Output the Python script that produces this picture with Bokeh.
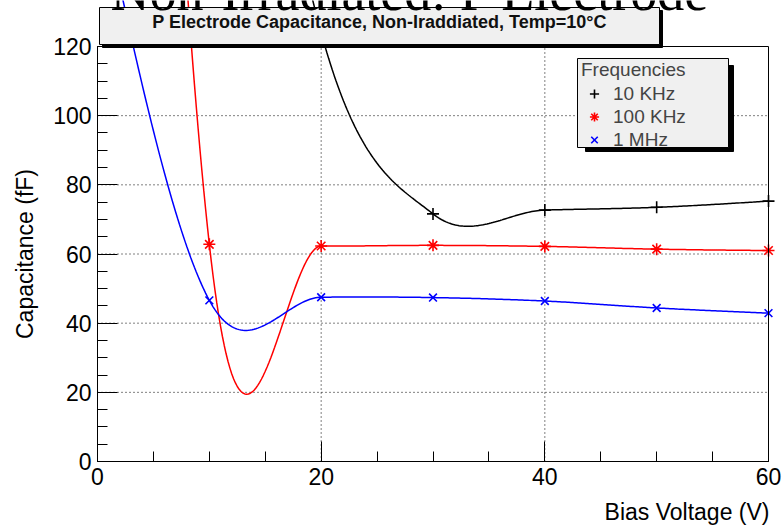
import numpy as np
from bokeh.plotting import figure
from bokeh.models import (Range1d, SingleIntervalTicker, Label, BoxAnnotation,
                          Legend, LegendItem)
from bokeh.embed import file_html
from bokeh.resources import INLINE

# ---------------- data ----------------
bias_v = [0, 10, 20, 30, 40, 50, 60]
cap_10khz = [600.0, 308.0, 124.0, 71.6, 72.7, 73.5, 75.3]
cap_100khz = [646.0, 62.8, 62.3, 62.5, 62.2, 61.4, 61.0]
cap_1mhz = [167.5, 46.6, 47.5, 47.4, 46.4, 44.4, 42.9]
series_names = ["10 KHz", "100 KHz", "1 MHz"]
x_major_ticks = [0, 20, 40, 60]
y_major_ticks = [0, 20, 40, 60, 80, 100, 120]
title_text = "P Electrode Capacitance, Non-Iraddiated, Temp=10\u00b0C"
doc_caption = "Non-Irradiated: P Electrode"
x_title = "Bias Voltage (V)"
y_title = "Capacitance (fF)"
legend_title = "Frequencies"

# ---------------- layout (pixels) ----------------
W, H = 782, 526
FL, FR, FT, FB = 97, 768, 46, 461        # data box on the canvas
X0, X1 = x_major_ticks[0], x_major_ticks[-1]
Y0, Y1 = y_major_ticks[0], y_major_ticks[-1]
kx = (X1 - X0) / (FR - FL)
ky = (Y1 - Y0) / (FB - FT)


def sx(px):  # canvas px -> screen-unit x (frame == canvas)
    return px


def sy(py):  # canvas py (from top) -> screen-unit y (from bottom)
    return H - py


def smooth(xs, ys, n=60):
    """Cardinal (Catmull-Rom) cubic through the measured points, like ROOT's 'C' option."""
    xs = np.asarray(xs, float)
    ys = np.asarray(ys, float)
    k = len(xs)
    m = np.zeros(k)
    for i in range(1, k - 1):
        m[i] = (ys[i + 1] - ys[i - 1]) / (xs[i + 1] - xs[i - 1])
    h0 = xs[1] - xs[0]
    m[0] = (3 * (ys[1] - ys[0]) / h0 - m[1]) / 2
    h1 = xs[-1] - xs[-2]
    m[-1] = (3 * (ys[-1] - ys[-2]) / h1 - m[-2]) / 2
    ox, oy = [], []
    for i in range(k - 1):
        h = xs[i + 1] - xs[i]
        u = np.linspace(0, 1, n, endpoint=(i == k - 2))
        h00 = 2 * u**3 - 3 * u**2 + 1
        h10 = u**3 - 2 * u**2 + u
        h01 = -2 * u**3 + 3 * u**2
        h11 = u**3 - u**2
        ox.append(xs[i] + u * h)
        oy.append(h00 * ys[i] + h10 * h * m[i] + h01 * ys[i + 1] + h11 * h * m[i + 1])
    return np.concatenate(ox), np.concatenate(oy)


p = figure(width=W, height=H, title=None,
           x_range=Range1d(X0 - FL * kx, X1 + (W - FR) * kx),
           y_range=Range1d(Y0 - (H - FB) * ky, Y1 + FT * ky),
           output_backend="svg", toolbar_location=None,
           min_border=0, min_border_left=0, min_border_right=0,
           min_border_top=0, min_border_bottom=0)
p.background_fill_color = "white"
p.border_fill_color = "white"
p.outline_line_color = None
p.xgrid.visible = False
p.ygrid.visible = False

xt = SingleIntervalTicker(interval=x_major_ticks[1] - x_major_ticks[0], num_minor_ticks=4)
yt = SingleIntervalTicker(interval=y_major_ticks[1] - y_major_ticks[0], num_minor_ticks=4)
xa, ya = p.xaxis[0], p.yaxis[0]
xa.ticker = xt
ya.ticker = yt
xa.fixed_location = Y0
ya.fixed_location = X0
xa.bounds = (X0, X1)
ya.bounds = (Y0, Y1)
for ax in (xa, ya):
    ax.major_tick_in = 20
    ax.major_tick_out = 0
    ax.minor_tick_in = 10
    ax.minor_tick_out = 0
    ax.axis_line_color = "black"
    ax.axis_line_width = 1
    ax.major_tick_line_color = "black"
    ax.minor_tick_line_color = "black"
    ax.major_label_text_font = "Liberation Sans"
    ax.major_label_text_font_size = "23px"
    ax.major_label_text_color = "black"
xa.major_label_standoff = 6
ya.major_label_standoff = 6

# dotted grid at the inner major ticks
gx = [t for t in x_major_ticks if X0 < t < X1]
gy = [t for t in y_major_ticks if Y0 < t < Y1]
p.segment(x0=gx, y0=[Y0] * len(gx), x1=gx, y1=[Y1] * len(gx),
          line_color="black", line_dash="1 3", line_width=1)
p.segment(x0=[X0] * len(gy), y0=gy, x1=[X1] * len(gy), y1=gy,
          line_color="black", line_dash="1 3", line_width=1)

colors = ["black", "red", "blue"]
markers = ["cross", "asterisk", "x"]
sizes = [12, 12, 11]
scatter_renderers = []
for ys, c, mk, sz in zip([cap_10khz, cap_100khz, cap_1mhz], colors, markers, sizes):
    cx, cy = smooth(bias_v, ys)
    p.line(cx, cy, line_color=c, line_width=1.5)
    r = p.scatter(bias_v, ys, marker=mk, size=sz, line_color=c, fill_color=c, line_width=1.6)
    scatter_renderers.append(r)

# frame of the data box
p.add_layout(BoxAnnotation(left=X0, right=X1, bottom=Y0, top=Y1,
                           fill_alpha=0, line_color="black", line_alpha=1, line_width=1))

# axis titles
p.add_layout(Label(x=sx(24), y=sy((FT + FB) / 2), x_units="screen", y_units="screen",
                   text=y_title, angle=np.pi / 2, text_align="center", text_baseline="middle",
                   text_font="Liberation Sans", text_font_size="23px", text_color="black"))
p.add_layout(Label(x=sx(769), y=sy(511), x_units="screen", y_units="screen", text=x_title,
                   text_align="right", text_baseline="middle",
                   text_font="Liberation Sans", text_font_size="23px", text_color="black"))

# title pave with shadow
p.add_layout(BoxAnnotation(left=sx(102), right=sx(662), top=sy(10), bottom=sy(47),
                           left_units="screen", right_units="screen",
                           top_units="screen", bottom_units="screen",
                           fill_color="black", fill_alpha=1, line_color="black", line_alpha=1))
p.add_layout(BoxAnnotation(left=sx(99), right=sx(659), top=sy(7), bottom=sy(44),
                           left_units="screen", right_units="screen",
                           top_units="screen", bottom_units="screen",
                           fill_color="#f0f0f0", fill_alpha=1, line_color="black",
                           line_alpha=1, line_width=1))
p.add_layout(Label(x=sx(379), y=sy(21), x_units="screen", y_units="screen", text=title_text,
                   text_align="center", text_baseline="middle",
                   text_font="Liberation Sans", text_font_style="bold",
                   text_font_size="18px", text_color="#111111"))

# document caption (cut by the top edge)
p.add_layout(Label(x=sx(110), y=sy(-8.5), x_units="screen", y_units="screen", text=doc_caption,
                   text_align="left", text_baseline="middle",
                   text_font="Liberation Serif", text_font_size="54px", text_color="black"))

# legend pave with shadow
p.add_layout(BoxAnnotation(left=sx(585), right=sx(733), top=sy(65), bottom=sy(151),
                           left_units="screen", right_units="screen",
                           top_units="screen", bottom_units="screen",
                           fill_color="black", fill_alpha=1, line_color="black", line_alpha=1))
p.add_layout(BoxAnnotation(left=sx(577), right=sx(728), top=sy(58), bottom=sy(147),
                           left_units="screen", right_units="screen",
                           top_units="screen", bottom_units="screen",
                           fill_color="#f0f0f0", fill_alpha=1, line_color="black",
                           line_alpha=1, line_width=1))
legend = Legend(items=[LegendItem(label=n, renderers=[r]) for n, r in zip(series_names, scatter_renderers)],
                location=(sx(581), sy(151)), title=legend_title,
                title_text_font="Liberation Sans", title_text_font_size="19px",
                title_text_font_style="normal", title_standoff=1,
                label_text_font="Liberation Sans", label_text_font_size="19px",
                label_height=23, glyph_height=23, glyph_width=26, label_standoff=6,
                spacing=0, padding=0, margin=0,
                background_fill_alpha=0, border_line_alpha=0)
p.add_layout(legend)

open("out.html", "w").write(file_html(p, INLINE))
